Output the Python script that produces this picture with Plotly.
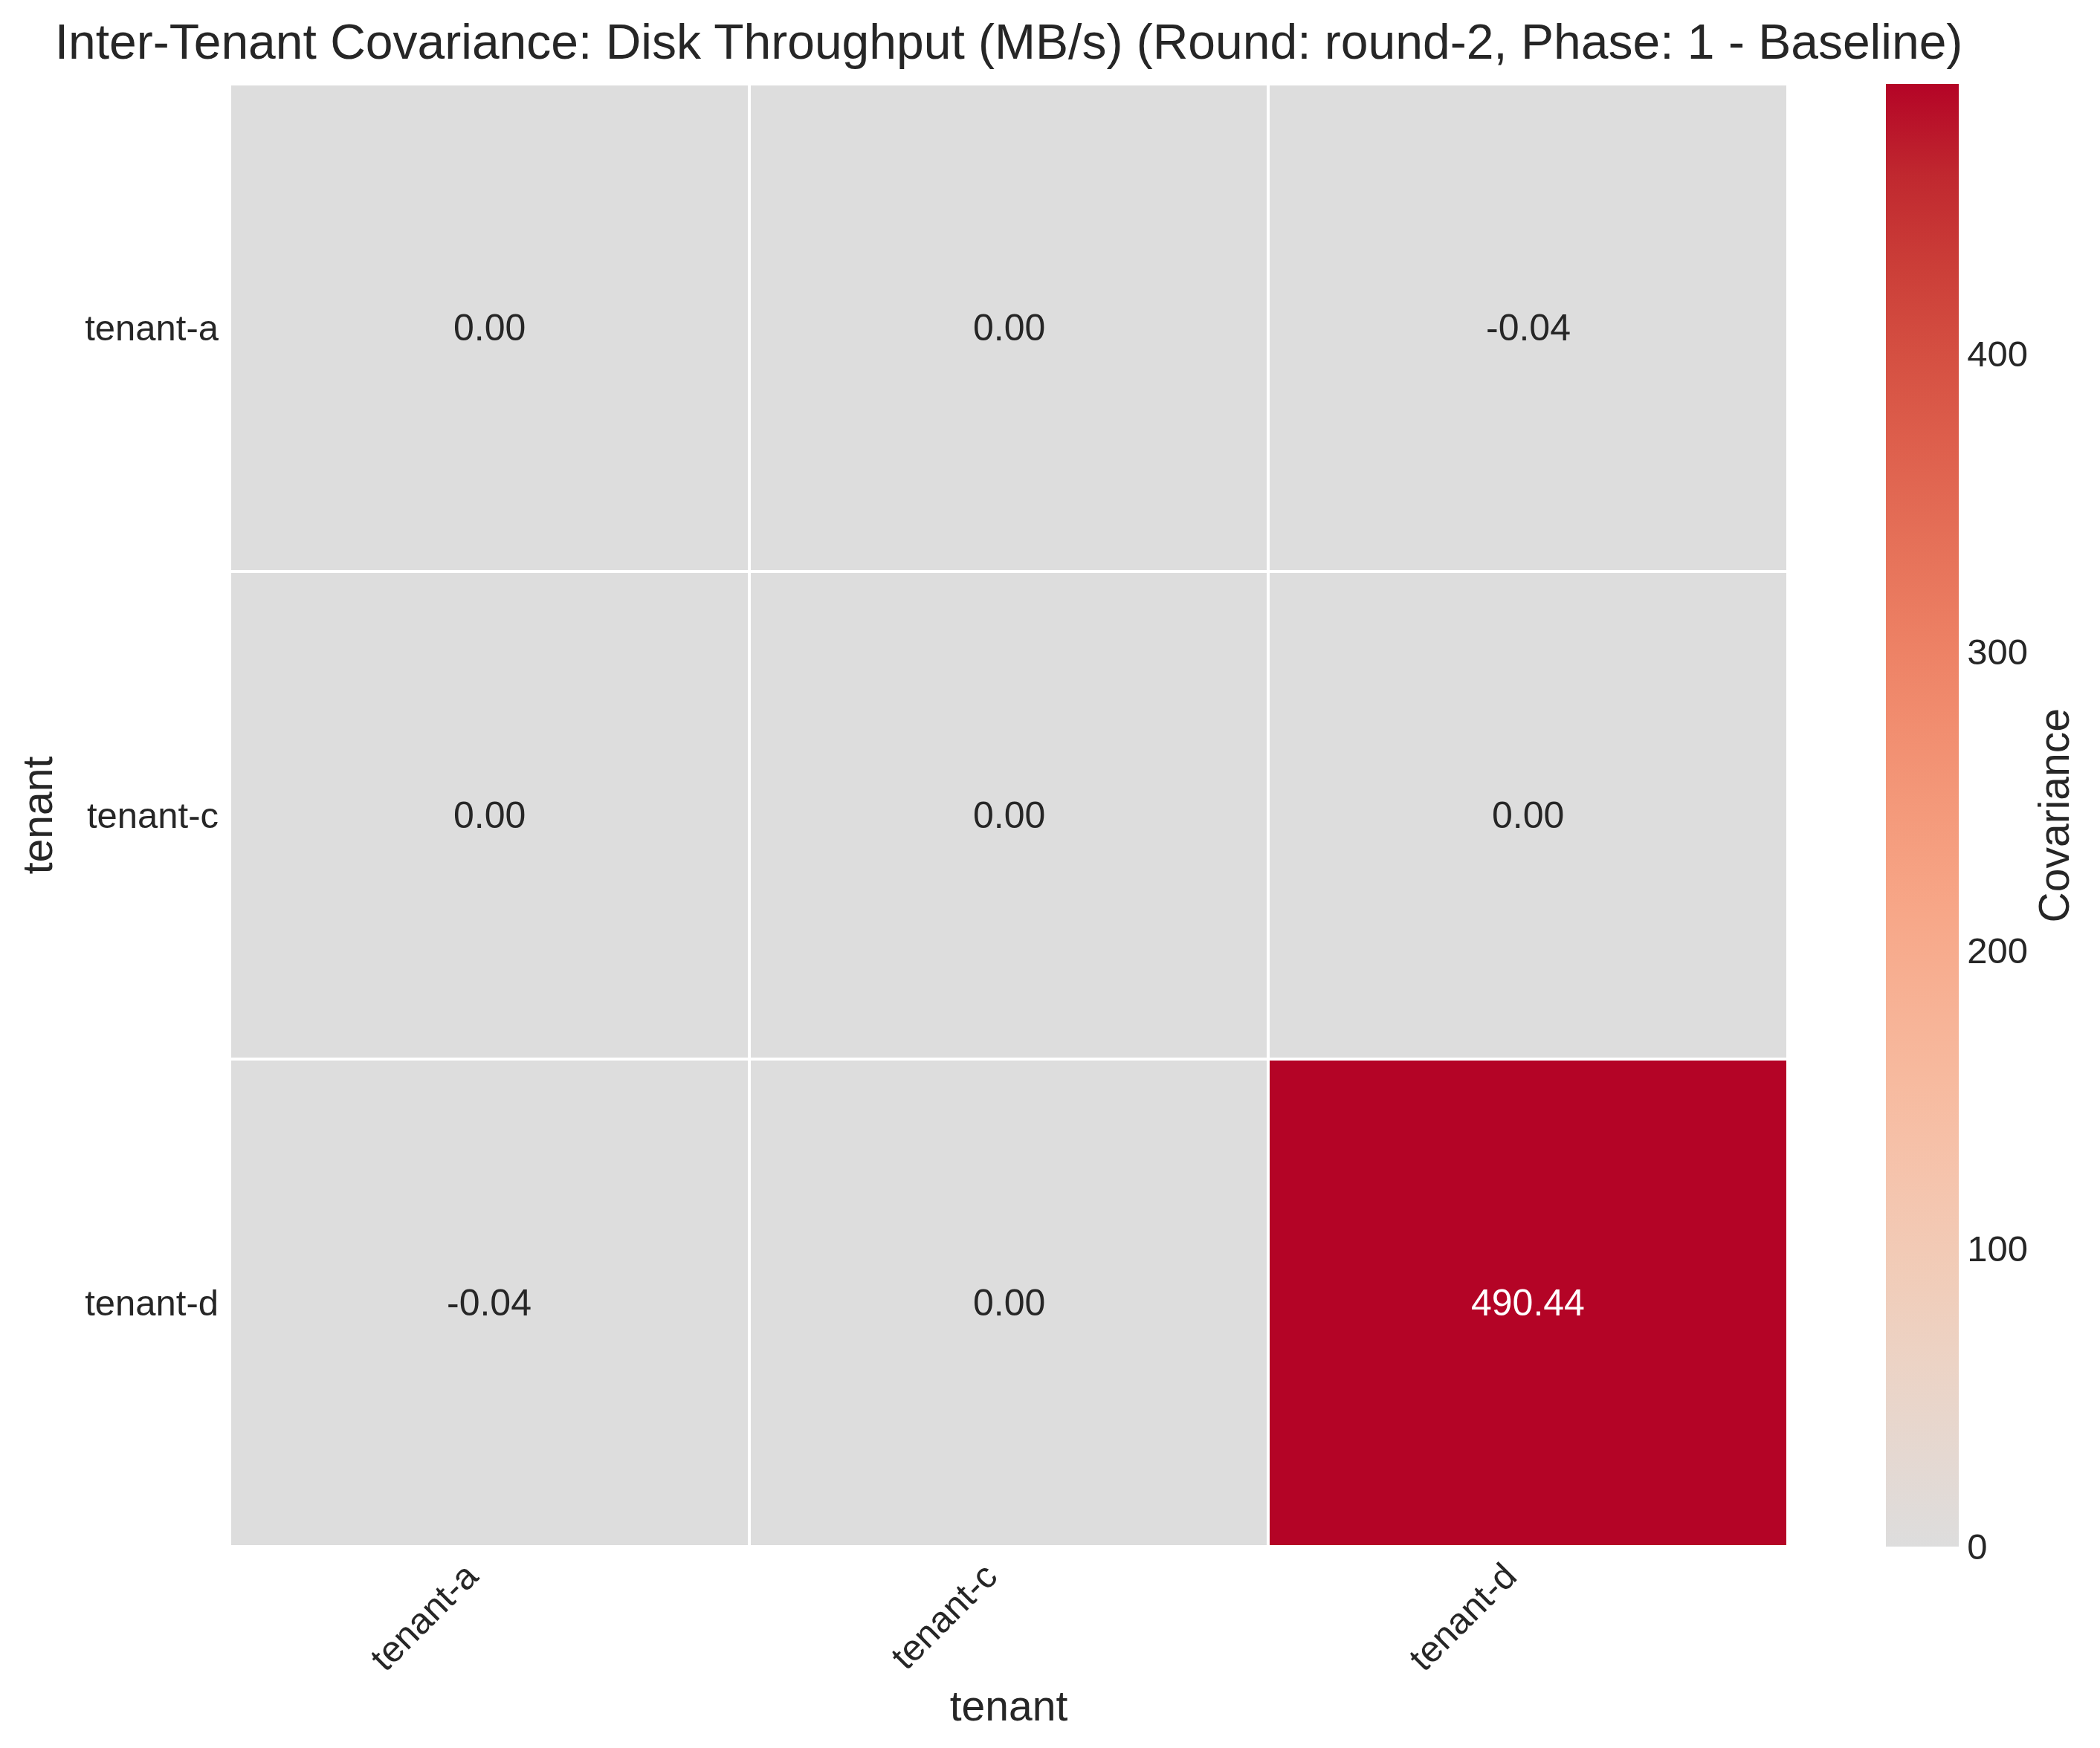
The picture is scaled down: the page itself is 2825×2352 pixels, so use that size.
import plotly.graph_objects as go

# data
tenants = ["tenant-a", "tenant-c", "tenant-d"]
cov_a = [0.00, 0.00, -0.04]
cov_c = [0.00, 0.00, 0.00]
cov_d = [-0.04, 0.00, 490.44]
cov = [cov_a, cov_c, cov_d]
cbar_ticks = [0, 100, 200, 300, 400]

title = "Inter-Tenant Covariance: Disk Throughput (MB/s) (Round: round-2, Phase: 1 - Baseline)"

# upper half of matplotlib's coolwarm (centre -> red end)
coolwarm_top = [
    (221, 221, 221), (229, 216, 209), (236, 211, 197), (241, 204, 184),
    (245, 196, 173), (247, 187, 160), (247, 177, 148), (247, 166, 135),
    (244, 154, 123), (241, 141, 111), (236, 127, 99), (229, 112, 88),
    (222, 96, 77), (213, 80, 66), (203, 62, 56), (192, 40, 47),
    (180, 4, 38),
]
n = len(coolwarm_top) - 1
colorscale = [[i / n, "rgb(%d,%d,%d)" % c] for i, c in enumerate(coolwarm_top)]

zmin = min(min(r) for r in cov)
zmax = max(max(r) for r in cov)

FONT = "Liberation Sans, Arial, sans-serif"
DARK = "#262626"

fig = go.Figure()
fig.add_trace(go.Heatmap(
    z=cov, x=tenants, y=tenants,
    colorscale=colorscale, zmin=zmin, zmax=zmax,
    xgap=4, ygap=4,
    hoverinfo="skip",
    colorbar=dict(
        x=1.063, xanchor="left", xpad=0,
        y=0.5, yanchor="middle", len=1, lenmode="fraction", ypad=0,
        thickness=98, outlinewidth=0,
        tickvals=cbar_ticks,
        ticks="outside", ticklen=2, tickcolor="rgba(0,0,0,0)",
        tickfont=dict(family=FONT, size=49, color=DARK),
    ),
))

# cell labels
for i, row_name in enumerate(tenants):
    for j, col_name in enumerate(tenants):
        v = cov[i][j]
        fig.add_annotation(
            x=col_name, y=row_name, text=f"{v:.2f}", showarrow=False,
            font=dict(family=FONT, size=50,
                      color="white" if v > zmax * 0.6 else DARK),
        )

# colorbar label
fig.add_annotation(
    text="Covariance", xref="paper", yref="paper", x=1.171, y=0.5,
    xanchor="center", yanchor="middle", textangle=-90, showarrow=False,
    font=dict(family=FONT, size=57, color=DARK),
)

fig.update_layout(
    width=2825, height=2352,
    margin=dict(l=301, r=428, t=105, b=279),
    paper_bgcolor="white", plot_bgcolor="white",
    font=dict(family=FONT, color=DARK),
    title=dict(text=title, x=0.5, xref="paper", xanchor="center",
               y=1, yref="paper", yanchor="bottom", pad=dict(b=34),
               font=dict(family=FONT, size=66, color=DARK)),
    xaxis=dict(
        title=dict(text="tenant", font=dict(family=FONT, size=57, color=DARK), standoff=18),
        tickangle=-45, showgrid=False, zeroline=False, ticks="",
        ticklabelshift=-30,
        tickfont=dict(family=FONT, size=49, color=DARK),
    ),
    yaxis=dict(
        title=dict(text="tenant", font=dict(family=FONT, size=57, color=DARK), standoff=25),
        autorange="reversed", showgrid=False, zeroline=False, ticks="",
        ticklabelstandoff=14,
        tickfont=dict(family=FONT, size=49, color=DARK),
    ),
)

fig.write_html("out.html")
